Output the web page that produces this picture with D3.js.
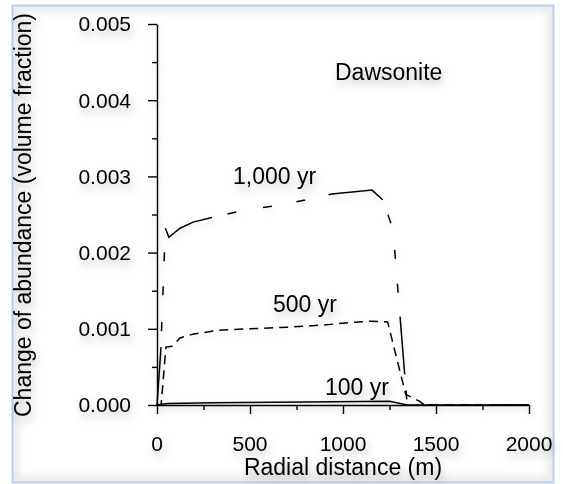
<!DOCTYPE html>
<html>
<head>
<meta charset="utf-8">
<script src="https://cdn.jsdelivr.net/npm/d3@7/dist/d3.min.js"></script>
<style>
  html, body { margin: 0; padding: 0; background: #fff; }
  svg { display: block; font-family: Arial, "Liberation Sans", Helvetica, sans-serif; }
</style>
</head>
<body>
<svg id="chart" width="563" height="484"></svg>
<script>
// Dawsonite abundance change vs. radial distance at three times
const xTicks = [0, 250, 500, 750, 1000, 1250, 1500, 1750, 2000];
const xLabels = [0, 500, 1000, 1500, 2000];
const yTicks = [0, 0.0005, 0.001, 0.0015, 0.002, 0.0025, 0.003, 0.0035, 0.004, 0.0045, 0.005];
const yLabels = [0, 0.001, 0.002, 0.003, 0.004, 0.005];

const seriesNames = ["100 yr", "500 yr", "1,000 yr"];

const dist100 = [0, 25, 60, 300, 800, 1250, 1345, 2000];
const abund100 = [0, 0.00001, 0.00002, 0.00003, 0.00004, 0.00005, 0, 0];

const dist500 = [0, 22, 48, 81, 124, 194, 328, 500, 700, 896, 1030, 1150, 1240, 1337, 1410, 1440, 2000];
const abund500 = [0, 0, 0.00076, 0.00077, 0.00088, 0.00093, 0.00098, 0.00100, 0.00102, 0.00105, 0.00108, 0.00110, 0.00109, 0.00014, 0.00005, 0, 0];

const dist1000 = [0, 20, 45, 64, 124, 194, 312, 457, 624, 796, 941, 1156, 1215, 1269, 1345, 2000];
const abund1000 = [0, 0.0007, 0.00232, 0.00220, 0.00232, 0.00240, 0.00247, 0.00255, 0.00261, 0.00269, 0.00277, 0.00282, 0.00269, 0.0023, 0, 0];

const svg = d3.select("#chart");

// soft drop shadows for text and strokes
const defs = svg.append("defs");
const sh = defs.append("filter").attr("id", "shadow")
  .attr("x", "-20%").attr("y", "-40%").attr("width", "140%").attr("height", "200%");
sh.append("feDropShadow").attr("dx", 2).attr("dy", 5).attr("stdDeviation", 4)
  .attr("flood-color", "#000").attr("flood-opacity", 0.26);
const shl = defs.append("filter").attr("id", "shadowLine")
  .attr("x", "-20%").attr("y", "-20%").attr("width", "140%").attr("height", "140%");
shl.append("feDropShadow").attr("dx", 1).attr("dy", 3).attr("stdDeviation", 3)
  .attr("flood-color", "#000").attr("flood-opacity", 0.15);
const blurF = defs.append("filter").attr("id", "edgeBlur")
  .attr("x", "-5%").attr("y", "-5%").attr("width", "110%").attr("height", "110%");
blurF.append("feGaussianBlur").attr("stdDeviation", 4);
defs.append("clipPath").attr("id", "frameClip")
  .append("rect").attr("x", 13).attr("y", 6).attr("width", 540).attr("height", 476);

// faint inner shade along the frame edges
svg.append("g").attr("clip-path", "url(#frameClip)")
  .append("rect")
  .attr("x", 14).attr("y", 7).attr("width", 538).attr("height", 474)
  .attr("fill", "none").attr("stroke", "#000").attr("stroke-opacity", 0.1)
  .attr("stroke-width", 8).attr("filter", "url(#edgeBlur)");

// frame
svg.append("rect")
  .attr("x", 12.5).attr("y", 5.5).attr("width", 541).attr("height", 477)
  .attr("fill", "none").attr("stroke", "#b9cff0").attr("stroke-width", 2);

const x = d3.scaleLinear().domain([0, 2000]).range([157, 529]);
const y = d3.scaleLinear().domain([0, 0.005]).range([405, 24]);

const plot = svg.append("g").attr("filter", "url(#shadowLine)");

// x axis: minor and major ticks
plot.append("g").attr("transform", `translate(0,${y(0)})`)
  .call(d3.axisBottom(x).tickValues(xTicks.filter(v => v % 500 !== 0)).tickSize(5).tickSizeOuter(0).tickFormat(""))
  .call(g => g.select(".domain").remove());
plot.append("g").attr("transform", `translate(0,${y(0)})`)
  .call(d3.axisBottom(x).tickValues(xLabels).tickSize(9).tickSizeOuter(0).tickFormat(""));

// y axis: minor and major ticks
plot.append("g").attr("transform", `translate(${x(0)},0)`)
  .call(d3.axisLeft(y).tickValues(yTicks.filter((v, i) => i % 2 === 1)).tickSize(5).tickSizeOuter(0).tickFormat(""))
  .call(g => g.select(".domain").remove());
plot.append("g").attr("transform", `translate(${x(0)},0)`)
  .call(d3.axisLeft(y).tickValues(yLabels).tickSize(9).tickSizeOuter(0).tickFormat(""));

plot.selectAll(".domain, .tick line").attr("stroke", "#000").attr("stroke-width", 1.4);

// series lines
const line = d3.line().x(d => x(d[0])).y(d => y(d[1]));
const series = [
  { name: seriesNames[0], pts: d3.zip(dist100, abund100), dash: null },
  { name: seriesNames[1], pts: d3.zip(dist500, abund500), dash: "9,6" },
  { name: seriesNames[2], pts: d3.zip(dist1000, abund1000), dash: "58,16,9,27,9,25,9,24" }
];
plot.selectAll("path.series").data(series).join("path")
  .attr("class", "series")
  .attr("d", d => line(d.pts))
  .attr("fill", "none")
  .attr("stroke", "#000")
  .attr("stroke-width", 1.5)
  .attr("stroke-linejoin", "miter")
  .attr("stroke-dasharray", d => d.dash);

// text layer
const txt = svg.append("g").attr("filter", "url(#shadow)")
  .attr("font-size", 23).attr("fill", "#000");

const fmtY = d3.format(".3f");
txt.selectAll("text.ylab").data(yLabels).join("text")
  .attr("class", "ylab")
  .attr("font-size", 21)
  .attr("x", 131).attr("y", d => y(d)).attr("dy", "0.35em")
  .attr("text-anchor", "end")
  .text(d => fmtY(d));

txt.selectAll("text.xlab").data(xLabels).join("text")
  .attr("class", "xlab")
  .attr("font-size", 21)
  .attr("x", d => x(d)).attr("y", 450.5)
  .attr("text-anchor", "middle")
  .text(d => d);

txt.append("text")
  .attr("x", 343).attr("y", 475)
  .attr("text-anchor", "middle")
  .text("Radial distance (m)");

txt.append("text")
  .attr("transform", "translate(31,215) rotate(-90)")
  .attr("text-anchor", "middle")
  .text("Change of abundance (volume fraction)");

txt.append("text")
  .attr("x", 335).attr("y", 80)
  .text("Dawsonite");

// series labels placed beside their curves
const labelPos = [
  { name: seriesNames[0], x: 325, y: 395 },
  { name: seriesNames[1], x: 273, y: 312 },
  { name: seriesNames[2], x: 233, y: 184 }
];
txt.selectAll("text.slab").data(labelPos).join("text")
  .attr("class", "slab")
  .attr("x", d => d.x).attr("y", d => d.y)
  .text(d => d.name);
</script>
</body>
</html>
